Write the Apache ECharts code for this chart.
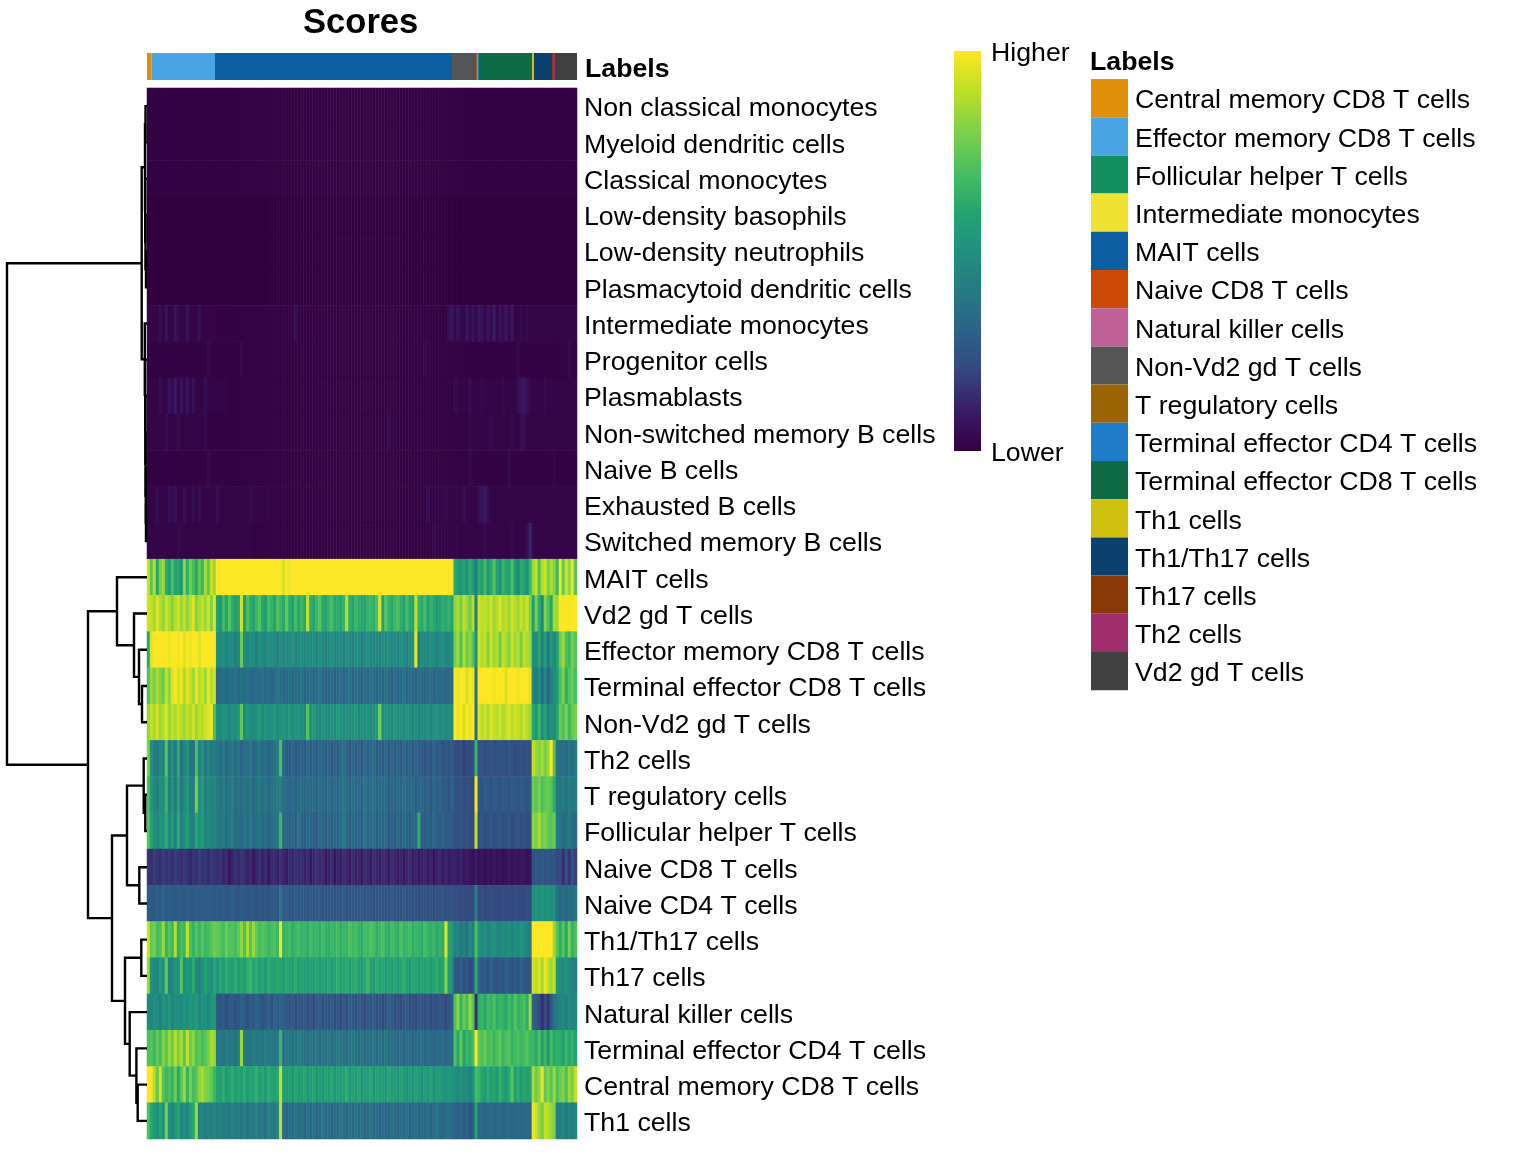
<!DOCTYPE html>
<html><head><meta charset="utf-8">
<script src="https://cdn.jsdelivr.net/npm/echarts@6/dist/echarts.min.js"></script>
<style>html,body{margin:0;padding:0;background:#fff}#c{width:1536px;height:1152px}</style>
</head><body><div id="c"></div>
<script>
const rowNames=['Non classical monocytes','Myeloid dendritic cells','Classical monocytes','Low-density basophils','Low-density neutrophils','Plasmacytoid dendritic cells','Intermediate monocytes','Progenitor cells','Plasmablasts','Non-switched memory B cells','Naive B cells','Exhausted B cells','Switched memory B cells','MAIT cells','Vd2 gd T cells','Effector memory CD8 T cells','Terminal effector CD8 T cells','Non-Vd2 gd T cells','Th2 cells','T regulatory cells','Follicular helper T cells','Naive CD8 T cells','Naive CD4 T cells','Th1/Th17 cells','Th17 cells','Natural killer cells','Terminal effector CD4 T cells','Central memory CD8 T cells','Th1 cells'];
const labelNames=['Central memory CD8 T cells','Effector memory CD8 T cells','Follicular helper T cells','Intermediate monocytes','MAIT cells','Naive CD8 T cells','Natural killer cells','Non-Vd2 gd T cells','T regulatory cells','Terminal effector CD4 T cells','Terminal effector CD8 T cells','Th1 cells','Th1/Th17 cells','Th17 cells','Th2 cells','Vd2 gd T cells'];
const labelColors=['#e08f0a','#4aa5e4','#13905f','#efe232','#0b5ea1','#cc4a05','#bf6096','#555555','#9b6405','#1f7dc9','#0f6b45','#cfbf0e','#0c416f','#8a3a06','#a02d6c','#404040'];
const labelCounts=[9,127,0,0,474,0,0,48,3,3,106,4,36,2,4,44];
const heatColors=['#33003f','#391c66','#35477f','#2b6289','#267a83','#20907f','#25a56f','#48bf60','#7dd14a','#bddf26','#fde725'];
// dendrogram: [left, right, height]; numbers are row indices
const dendroTree=[[[[0,1,1.5],[2,[3,[4,5,1],1.5],1.8],2],[6,[7,[8,[9,[10,[11,12,1],1.2],1.4],1.6],1.8],2.2],5.3],
[[13,[14,[15,[16,17,5],8],13],30],[[[18,[19,20,1.7],3.3],[21,22,7.7],20],[[23,24,5.7],[25,[26,[27,28,9.3],10.6],17.3],22],35],59],140];
// dark rows as [value, run] pairs
const r0=[[1,143]];
const r1=[[1,143]];
const r2=[[1,143]];
const r3=[[0,143]];
const r4=[[0,143]];
const r5=[[0,143]];
const r6=[[2,4],[5,1],[2,1],[7,1],[2,2],[7,1],[4,1],[2,2],[7,1],[2,3],[6,1],[2,5],[1,26],[5,1],[1,50],[5,1],[7,1],[3,1],[7,1],[4,1],[3,1],[8,1],[4,1],[7,1],[3,1],[8,1],[6,1],[3,1],[7,1],[4,1],[10,1],[3,1],[7,1],[4,1],[8,1],[3,1],[8,1],[2,2],[4,1],[2,1],[4,1],[2,2]];
const r7=[[1,20],[4,1],[1,10],[3,1],[1,60],[3,1],[1,30],[4,1],[1,16],[4,1],[1,2]];
const r8=[[2,4],[5,1],[2,2],[7,1],[4,1],[9,1],[3,1],[7,1],[3,1],[7,1],[2,1],[6,1],[2,3],[5,1],[2,7],[1,75],[4,1],[2,4],[5,1],[2,3],[4,1],[2,6],[4,1],[2,4],[5,1],[7,1],[9,1],[6,1],[3,1],[2,4],[4,1],[2,3]];
const r9=[[2,6],[5,1],[2,3],[5,1],[2,8],[4,1],[1,60],[4,1],[1,26],[4,1],[2,6],[4,1],[2,6],[4,1],[2,2],[5,1],[6,1],[2,15]];
const r10=[[1,20],[4,1],[1,86],[4,1],[1,12],[4,1],[1,14],[3,1],[1,7]];
const r11=[[2,3],[5,1],[2,3],[6,1],[4,1],[6,1],[2,2],[5,1],[2,2],[5,1],[2,1],[5,1],[2,5],[5,1],[2,10],[4,1],[2,6],[1,52],[5,1],[2,5],[4,1],[2,5],[5,1],[2,4],[5,1],[7,1],[9,1],[5,1],[2,7]];
const r12=[[2,10],[4,1],[2,24],[1,60],[4,1],[2,16],[4,1],[2,8],[4,1],[2,4],[5,1],[12,1],[4,1],[2,7]];
const r13=[92,72,88,60,78,85,62,55,70,58,60,52,82,62,78,68,60,74,66,86,74,90,84,
99,99,99,99,99,99,99,99,99,99, 99,99,99,99,99,99,99,99,99,99, 99,99,93,99,96,99,99,99,99,99, 99,99,99,99,99,99,99,99,99,99, 99,99,99,99,99,99,99,99,99,99, 99,99,99,99,99,99,99,99,99,99, 99,99,99,99,99,99,99,99,99,99, 99,99,99,99,99,99,99,99,99,
60,55,52,58,50,62,55,40,
62,55,68,52,60,72,58,50,66,60,56,70,54,46,62,58,48,66,
84,90,70,88,92,78,86,80,
66,96,74,92,82,96,72];
const r14=[92,90,85,94,88,82,92,86,80,88,92,84,90,82,88,94,80,86,90,84,92,80,94,
58,52,68,58,72,62,56,60,92,54, 70,62,58,66,72,60,55,68,64,58, 70,66,60,74,62,56,68,60,66,60, 90,62,58,66,72,60,56,64,68,60, 62,58,64,88,62,58,66,62,60,58, 64,66,62,70,94,58,72,64,60,66, 70,62,56,68,60,58,90,64,60,68, 56,64,60,54,58,62,60,64,58,
82,86,78,90,84,76,88,40,
92,88,90,86,92,84,88,94,86,90,84,92,88,84,90,86,92,80,
56,78,62,44,80,70,60,86,
84,99,99,99,98,99,99];
const r15=[60,94,99,99,99,99,99,96,99,99,97,99,94,99,96,99,99,94,99,99,99,99,99,
48,46,50,44,47,50,42,46,76,49, 44,50,48,42,50,46,44,50,48,46, 42,50,44,48,46,50,44,47,50,44, 48,46,50,44,49,46,42,47,50,44, 46,48,42,50,46,44,49,47,42,46, 50,44,47,46,42,49,46,50,44,48, 44,50,46,42,48,50,96,42,48,46, 44,50,46,42,48,50,44,46,48,
78,84,70,88,76,82,72,48,
92,86,90,80,92,84,88,76,90,86,80,92,84,88,78,90,86,84,
50,46,60,42,56,38,54,46,
56,76,84,70,66,78,72];
const r16=[70,84,78,86,80,76,90,82,94,99,92,96,86,95,90,84,96,88,92,84,96,88,92,
32,34,36,31,35,33,37,32,35,33, 36,33,32,35,33,37,32,35,31,33, 37,35,32,33,36,31,35,33,37,31, 33,35,31,33,37,32,30,31,35,29, 33,35,30,33,37,31,35,33,29,35, 31,37,33,30,35,31,37,33,29,35, 31,33,37,31,35,33,31,35,33,30, 32,36,30,34,32,35,30,33,32,
99,96,99,99,92,99,96,36,
99,99,99,99,99,97,99,99,99,93,99,99,99,96,99,99,99,95,
45,38,50,34,46,30,42,48,
54,70,78,62,72,76,68];
const r17=[82,90,86,92,84,88,94,84,90,86,92,88,84,90,86,92,84,90,88,92,94,96,70,
48,46,52,50,44,52,48,54,74,46, 52,48,46,50,54,46,52,48,50,54, 46,50,52,48,54,46,50,52,48,46, 72,50,54,48,46,52,50,46,52,48, 54,50,46,52,48,50,54,46,50,48, 52,46,50,54,78,48,52,50,46,54, 48,50,46,52,48,44,50,42,48,46, 50,44,48,52,46,50,44,48,46,
99,96,99,92,99,95,99,34,
94,88,92,86,94,90,88,92,86,90,94,88,92,90,86,92,88,84,
60,52,66,48,58,44,52,46,
58,76,70,80,66,74,78];
const r18=[80,50,42,38,46,44,72,40,50,38,62,36,44,52,38,36,70,44,52,40,46,38,42,
38,34,40,32,36,40,32,38,30,36, 34,40,30,34,38,32,36,30,34,36, 40,70,32,28,28,32,26,28,30,26, 32,28,30,26,32,30,27,32,26,30, 28,32,36,30,26,32,28,30,26,34, 28,30,36,26,30,28,32,26,30,28, 30,26,34,28,30,26,30,28,26,24, 28,24,30,26,28,22,26,24,28,
22,20,24,18,22,20,23,66,
24,25,22,24,25,22,24,25,24,22,25,24,22,24,25,22,24,22,
90,84,80,86,78,84,99,72,
36,34,36,32,38,34,40];
const r19=[70,54,46,42,50,48,66,42,52,40,58,38,46,54,42,40,78,48,56,42,48,44,46,
40,36,42,34,38,42,34,38,34,38, 36,40,32,36,40,34,38,32,36,38, 40,42,34,32,30,34,30,32,34,30, 34,32,34,30,36,32,30,36,30,34, 32,36,38,34,30,36,32,34,30,38, 32,34,38,30,34,32,34,28,32,30, 34,30,36,32,30,34,28,30,32,28, 30,26,32,28,30,26,28,24,30,
24,22,26,21,24,22,21,99,
26,24,28,26,24,28,26,24,28,26,24,28,26,24,28,26,24,26,
76,72,78,70,74,76,72,62,
40,38,40,36,42,38,40];
const r20=[72,58,50,46,52,50,62,46,54,42,62,42,48,56,44,42,60,50,56,44,48,44,44,
40,38,40,34,38,42,34,36,32,38, 34,40,32,36,38,32,36,30,34,36, 38,66,32,30,30,32,28,38,30,28, 32,30,28,26,34,30,28,34,28,32, 30,32,38,32,28,34,30,32,28,40, 30,32,36,28,32,30,34,26,30,28, 32,28,34,30,28,32,30,62,28,26, 30,26,32,28,26,30,26,28,26,
24,22,26,22,24,21,22,90,
24,26,22,24,26,22,24,26,22,24,26,22,24,26,22,24,22,24,
82,78,86,76,80,74,72,76,
40,38,34,36,40,34,32];
const r21=[16,14,18,16,14,18,15,17,14,18,16,14,17,15,12,16,14,18,15,16,13,17,15,
14,16,12,14,8,12,15,13,16,14, 11,14,8,12,15,11,14,8,13,14, 11,15,12,9,14,12,15,13,14,11, 14,8,13,15,12,14,9,11,14,7, 12,10,14,12,8,14,11,13,8,14, 12,9,14,12,10,14,12,8,14,12, 9,13,8,12,14,9,12,8,11,13, 9,12,7,11,13,8,12,9,11,
11,9,12,8,10,7,6,10,
6,8,5,8,6,9,6,8,5,7,9,6,8,7,9,8,6,7,
24,26,25,27,25,26,24,26,
20,22,14,24,16,24,18];
const r22=[27,28,26,29,27,30,26,29,28,26,29,28,26,29,27,26,29,27,28,26,27,28,26,
27,26,28,25,27,29,26,25,27,26, 25,27,26,24,27,25,26,24,27,26, 25,38,26,28,25,26,27,25,27,26, 25,27,25,26,27,24,26,25,26,24, 26,25,27,24,25,26,24,25,27,24, 26,25,23,25,26,24,25,24,26,24, 25,23,26,24,25,23,24,22,25,24, 23,25,22,24,23,25,22,24,23,
22,23,21,22,22,21,22,42,
21,23,20,22,23,21,22,20,23,21,22,20,23,21,22,21,23,21,
50,52,48,54,50,52,48,50,
36,32,34,30,36,34,38];
const r23=[92,74,78,68,70,84,64,72,66,88,62,68,66,90,70,64,72,66,72,66,68,72,76,
74,72,68,76,70,72,68,74,82,70, 86,72,84,74,68,72,70,66,68,70, 66,96,64,66,68,62,66,68,64,66, 62,68,64,66,62,68,64,62,66,64, 68,62,66,64,70,66,68,64,62,68, 66,70,68,62,66,70,64,62,68,66, 62,70,64,66,68,62,66,64,62,68, 64,62,66,60,64,62,94,58,54,
42,46,38,44,36,50,40,70,
52,46,50,44,48,52,46,44,48,46,50,44,48,46,52,48,44,42,
99,99,99,99,99,99,99,84,
72,62,72,60,78,64,70];
const r24=[84,50,46,44,54,50,74,44,46,52,50,72,48,54,50,62,46,44,50,58,52,48,60,
52,60,54,62,58,56,62,54,60,56, 62,66,58,62,56,60,54,62,58,56, 60,58,54,60,58,56,62,54,58,56, 54,58,56,60,54,58,56,60,54,58, 62,56,58,60,56,60,62,56,54,60, 66,56,54,62,56,60,54,58,56,60, 54,58,62,56,54,60,58,54,58,56, 60,54,58,62,54,58,80,54,50,
26,24,30,22,26,20,24,62,
30,26,28,24,30,26,24,28,24,30,26,24,28,24,30,26,24,24,
92,88,94,86,96,90,84,90,
52,50,46,52,48,44,42];
const r25=[46,44,50,48,42,52,46,54,44,50,48,46,52,48,54,50,56,46,52,50,46,52,54,
26,24,28,22,26,28,24,26,30,28, 24,28,26,30,28,24,26,30,24,30, 28,30,28,26,24,28,22,26,24,28, 22,26,20,26,28,22,26,24,28,22, 26,20,26,22,28,26,22,28,24,20, 26,24,28,22,26,20,24,28,26,22, 24,20,26,28,22,24,20,26,24,22, 26,20,24,22,26,24,20,24,26,
70,82,64,76,68,84,72,14,
62,66,60,68,64,70,62,66,64,60,68,62,72,64,66,70,62,84,
30,26,22,14,22,16,26,36,
40,44,46,42,48,44,46];
const r26=[70,72,66,74,68,80,72,84,76,88,78,86,72,90,76,82,70,74,68,72,78,86,84,
38,40,36,42,38,40,36,42,84,40, 38,36,42,38,40,36,42,38,40,36, 38,66,36,38,40,36,38,42,40,36, 34,38,36,40,34,38,36,40,34,36, 40,38,36,34,38,40,36,34,38,32, 36,34,38,32,36,34,38,32,36,34, 32,36,30,34,36,30,34,32,36,30, 34,32,30,34,32,36,30,34,32,
70,60,74,58,66,62,68,99,
74,70,76,68,72,66,70,74,66,70,72,64,68,70,66,68,72,66,
66,60,70,56,66,52,68,60,
64,62,58,66,60,64,58];
const r27=[99,99,88,74,92,72,66,70,64,76,60,72,84,64,78,68,72,82,86,80,78,74,66,
58,56,62,54,58,62,54,60,56,62, 54,60,58,64,56,60,54,62,58,56, 60,90,56,54,58,52,60,54,56,60, 52,56,60,50,56,52,58,54,60,52, 58,54,56,62,52,58,54,60,52,56, 54,60,52,58,54,56,52,60,54,56, 52,58,54,50,56,52,58,54,50,56, 52,58,50,54,56,52,50,54,52,
50,44,52,46,48,42,50,68,
66,58,54,62,56,60,54,64,58,52,60,72,56,62,54,60,56,58,
86,76,82,96,74,80,72,84,
70,76,80,70,84,78,90];
const r28=[70,60,54,48,58,50,78,48,44,52,60,46,50,44,54,60,84,42,46,40,44,42,46,
42,44,40,42,38,44,40,42,38,44, 36,42,40,44,38,42,36,44,40,38, 44,90,34,30,36,32,38,32,36,30, 38,32,36,30,34,38,32,36,30,36, 32,38,34,30,36,32,38,34,36,30, 34,38,32,36,30,34,32,30,36,34, 30,36,32,38,30,34,36,30,34,32, 36,30,34,38,32,30,34,36,32,
30,28,32,26,30,24,28,60,
32,34,30,32,34,30,32,34,30,32,34,30,32,34,30,32,34,30,
96,92,84,78,90,88,84,78,
40,42,46,38,44,40,46];

const nCols=143;
const expand=r=>r.flatMap(p=>Array(p[1]).fill(p[0]));
const rowsData=[r0,r1,r2,r3,r4,r5,r6,r7,r8,r9,r10,r11,r12].map(expand).concat([r13,r14,r15,r16,r17,r18,r19,r20,r21,r22,r23,r24,r25,r26,r27,r28]);
const heat=[];
rowsData.forEach((row,i)=>{for(let c=0;c<nCols;c++)heat.push([c,i,row[Math.min(c,row.length-1)]]);});
const colNames=Array.from({length:nCols},(_,i)=>String(i));

// dendrogram links
const links=[];
function walk(n){
  if(typeof n==='number')return {h:0,y:n+0.5};
  const a=walk(n[0]),b=walk(n[1]);
  links.push([a.h,n[2],b.h,a.y,b.y]);
  return {h:n[2],y:(a.y+b.y)/2};
}
walk(dendroTree);

const FONT='"Liberation Sans",Arial,sans-serif';
const FS=26.7;
const plain={fontFamily:FONT,fontSize:FS,color:'#000'};
const chart=echarts.init(document.getElementById('c'),null,{renderer:'canvas'});
chart.setOption({
  animation:false,backgroundColor:'#fff',
  title:{text:'Scores',left:298,top:1,textStyle:{fontFamily:FONT,fontSize:34.6,fontWeight:'bold',color:'#000'}},
  tooltip:{show:false},
  grid:[
    {left:147,top:88,width:430,height:1051},
    {left:147,top:53,width:430,height:27},
    {left:0,top:88,width:147,height:1051}
  ],
  xAxis:[
    {type:'category',gridIndex:0,data:colNames,show:false},
    {type:'value',gridIndex:1,min:0,max:860,show:false},
    {type:'value',gridIndex:2,min:0,max:147,inverse:true,show:false}
  ],
  yAxis:[
    {type:'category',gridIndex:0,data:rowNames,inverse:true,position:'right',axisLine:{show:false},axisTick:{show:false},splitLine:{show:false},
     axisLabel:{margin:7,interval:0,...plain,padding:[6,0,0,0],formatter:v=>'{a|'+v+'}',rich:{a:plain}}},
    {type:'category',gridIndex:1,data:['Labels'],position:'right',axisLine:{show:false},axisTick:{show:false},
     axisLabel:{margin:7,...plain,padding:[6,0,0,1],formatter:v=>'{a|'+v+'}',rich:{a:{...plain,fontWeight:'bold'}}}},
    {type:'value',gridIndex:2,min:0,max:29,inverse:true,show:false}
  ],
  visualMap:{type:'continuous',seriesIndex:0,min:0,max:99,show:false,inRange:{color:heatColors}},
  legend:{orient:'vertical',left:1091,top:79,itemWidth:37,itemHeight:38.2,itemGap:0,selectedMode:false,icon:'rect',data:labelNames,
    formatter:n=>'{a|'+n+'}',textStyle:{...plain,padding:[6,0,0,2],rich:{a:plain}},padding:0},
  graphic:[
    {type:'rect',shape:{x:954,y:51,width:27,height:400},style:{fill:new echarts.graphic.LinearGradient(0,1,0,0,heatColors.map((c,i)=>({offset:i/(heatColors.length-1),color:c})))}},
    {type:'text',left:1090,top:49,style:{text:'Labels',font:'bold '+FS+'px '+FONT,fill:'#000'}},
    {type:'text',left:991,top:40,style:{text:'Higher',font:FS+'px '+FONT,fill:'#000'}},
    {type:'text',left:991,top:440,style:{text:'Lower',font:FS+'px '+FONT,fill:'#000'}}
  ],
  series:[
    {type:'heatmap',xAxisIndex:0,yAxisIndex:0,data:heat,progressive:0,silent:true,itemStyle:{borderWidth:0}},
    {type:'custom',xAxisIndex:2,yAxisIndex:2,data:links,silent:true,clip:false,encode:{x:[0,1,2],y:[3,4]},
     renderItem(p,api){
       const a=api.coord([api.value(0),api.value(3)]),b=api.coord([api.value(1),api.value(3)]),
             c=api.coord([api.value(1),api.value(4)]),d=api.coord([api.value(2),api.value(4)]);
       return {type:'polyline',shape:{points:[a,b,c,d]},style:{stroke:'#000',lineWidth:2.4,fill:null}};
     }},
    ...labelNames.map((n,i)=>({type:'bar',name:n,xAxisIndex:1,yAxisIndex:1,stack:'a',barWidth:'100%',silent:true,
      itemStyle:{color:labelColors[i]},data:[labelCounts[i]]}))
  ]
});
</script></body></html>
